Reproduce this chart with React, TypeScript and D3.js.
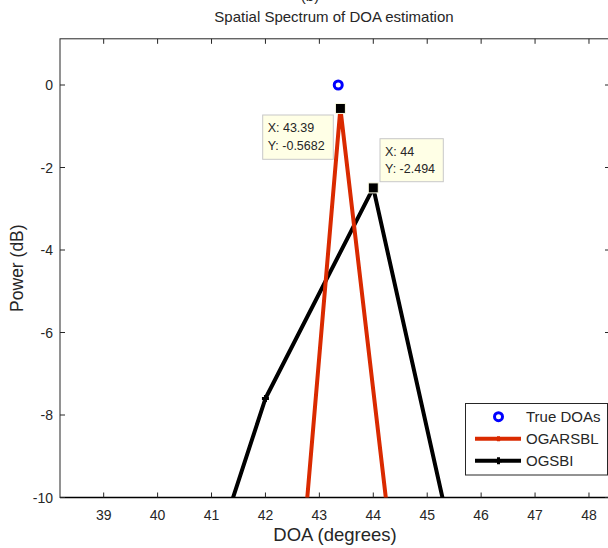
import { useEffect, useRef } from 'react';
import * as d3 from 'd3';

// values
const trueDoas = [43.35];
const truePower = [0];

const ogarsblDoa = [42.39, 43.39, 44.39];
const ogarsblPower = [-15.93, -0.5682, -11.77];

const ogsbiDoa = [41, 42, 44, 46];
const ogsbiPower = [-11.6, -7.6, -2.494, -14.2];

const xTicks = [39, 40, 41, 42, 43, 44, 45, 46, 47, 48];
const yTicks = [-10, -8, -6, -4, -2, 0];

// data tips shown on the figure
const tips = [
  { x: 43.39, y: -0.5682, label: ['X: 43.39', 'Y: -0.5682'] },
  { x: 44, y: -2.494, label: ['X: 44', 'Y: -2.494'] },
];

const RED = '#da2a00';
const FONT = '"Liberation Sans", Arial, Helvetica, sans-serif';

export default function App() {
  const svgRef = useRef<SVGSVGElement | null>(null);

  useEffect(() => {
    const width = 608;
    const height = 548;
    const plot = { left: 60, right: 610, top: 38.8, bottom: 497.5 };

    const svg = d3.select(svgRef.current);
    svg.selectAll('*').remove();
    svg.attr('viewBox', `0 0 ${width} ${height}`);

    svg.append('rect').attr('width', width).attr('height', height).attr('fill', '#fff');

    const x = d3.scaleLinear().domain([38.19, 48.39]).range([plot.left, plot.right]);
    const y = d3.scaleLinear().domain([-10, 1.12]).range([plot.bottom, plot.top]);

    svg.append('clipPath').attr('id', 'plotclip')
      .append('rect')
      .attr('x', plot.left).attr('y', plot.top)
      .attr('width', plot.right - plot.left).attr('height', plot.bottom - plot.top);

    // axes box with inward ticks
    const tickLen = 5;
    const frame = svg.append('g').attr('stroke', '#262626').attr('stroke-width', 1).attr('fill', 'none');
    frame.append('rect')
      .attr('x', plot.left).attr('y', plot.top)
      .attr('width', plot.right - plot.left).attr('height', plot.bottom - plot.top);
    frame.append('line')
      .attr('x1', plot.left).attr('x2', plot.right)
      .attr('y1', plot.bottom).attr('y2', plot.bottom)
      .attr('stroke', '#000').attr('stroke-width', 1.5);

    xTicks.forEach((t) => {
      frame.append('line').attr('x1', x(t)).attr('x2', x(t)).attr('y1', plot.bottom).attr('y2', plot.bottom - tickLen);
      frame.append('line').attr('x1', x(t)).attr('x2', x(t)).attr('y1', plot.top).attr('y2', plot.top + tickLen);
    });
    yTicks.forEach((t) => {
      frame.append('line').attr('x1', plot.left).attr('x2', plot.left + tickLen).attr('y1', y(t)).attr('y2', y(t));
      frame.append('line').attr('x1', plot.right).attr('x2', plot.right - tickLen).attr('y1', y(t)).attr('y2', y(t));
    });

    const labels = svg.append('g').attr('font-family', FONT).attr('fill', '#262626').attr('font-size', 14);
    xTicks.forEach((t) => {
      labels.append('text').attr('x', x(t)).attr('y', plot.bottom + 22)
        .attr('text-anchor', 'middle').text(t);
    });
    yTicks.forEach((t) => {
      labels.append('text').attr('x', plot.left - 7).attr('y', y(t) + 5)
        .attr('text-anchor', 'end').text(t);
    });

    svg.append('text').attr('x', 334).attr('y', 22)
      .attr('font-family', FONT).attr('font-size', 15).attr('text-anchor', 'middle')
      .attr('fill', '#262626').text('Spatial Spectrum of DOA estimation');
    svg.append('text').attr('x', 310).attr('y', 1)
      .attr('font-family', FONT).attr('font-size', 15).attr('text-anchor', 'middle')
      .attr('fill', '#262626').text('(b)');

    svg.append('text').attr('x', 335).attr('y', 541)
      .attr('font-family', FONT).attr('font-size', 18.5).attr('text-anchor', 'middle')
      .attr('fill', '#262626').text('DOA (degrees)');
    svg.append('text')
      .attr('transform', `translate(23,${(plot.top + plot.bottom) / 2}) rotate(-90)`)
      .attr('font-family', FONT).attr('font-size', 17.5).attr('text-anchor', 'middle')
      .attr('fill', '#262626').text('Power (dB)');

    const g = svg.append('g').attr('clip-path', 'url(#plotclip)');
    const line = d3.line<[number, number]>().x((d) => x(d[0])).y((d) => y(d[1]));

    const plus = (sel: any, cx: number, cy: number, color: string, r: number) => {
      sel.append('path')
        .attr('d', `M${cx - r},${cy}H${cx + r}M${cx},${cy - r}V${cy + r}`)
        .attr('stroke', color).attr('stroke-width', 3).attr('fill', 'none');
    };

    const ogarsbl = ogarsblDoa.map((d, i) => [d, ogarsblPower[i]] as [number, number]);
    const ogsbi = ogsbiDoa.map((d, i) => [d, ogsbiPower[i]] as [number, number]);

    g.append('path').datum(ogsbi).attr('d', line)
      .attr('fill', 'none').attr('stroke', '#000').attr('stroke-width', 4).attr('stroke-linejoin', 'round');
    ogsbi.forEach((d) => plus(g, x(d[0]), y(d[1]), '#000', 3.5));

    g.append('path').datum(ogarsbl).attr('d', line)
      .attr('fill', 'none').attr('stroke', RED).attr('stroke-width', 4).attr('stroke-linejoin', 'round');
    ogarsbl.forEach((d) => plus(g, x(d[0]), y(d[1]), RED, 3));

    trueDoas.forEach((d, i) => {
      g.append('circle').attr('cx', x(d)).attr('cy', y(truePower[i])).attr('r', 4)
        .attr('fill', 'none').attr('stroke', '#0000ff').attr('stroke-width', 3);
    });

    // data tips
    const tipLayout = [
      { bx: 262.7, by: 115, bw: 70.6, bh: 44.3 },
      { bx: 380, by: 138.7, bw: 63.3, bh: 43 },
    ];
    tips.forEach((t, i) => {
      const b = tipLayout[i];
      svg.append('rect').attr('x', b.bx).attr('y', b.by).attr('width', b.bw).attr('height', b.bh)
        .attr('fill', '#ffffe6').attr('stroke', '#c8c8c8').attr('stroke-width', 1);
      t.label.forEach((s, k) => {
        svg.append('text').attr('x', b.bx + 5).attr('y', b.by + 17 + k * 17.5)
          .attr('font-family', FONT).attr('font-size', 12.5).attr('fill', '#262626').text(s);
      });
      svg.append('rect').attr('x', x(t.x) - 5).attr('y', y(t.y) - 5).attr('width', 10).attr('height', 10)
        .attr('fill', '#000').attr('stroke', '#ffffe6').attr('stroke-width', 1);
    });

    // legend
    const lg = svg.append('g');
    lg.append('rect').attr('x', 465.5).attr('y', 403.5).attr('width', 142).attr('height', 71.5)
      .attr('fill', '#fff').attr('stroke', '#262626').attr('stroke-width', 1);
    const rows = [
      { name: 'True DOAs', kind: 'circle', color: '#0000ff' },
      { name: 'OGARSBL', kind: 'line', color: RED },
      { name: 'OGSBI', kind: 'line', color: '#000' },
    ];
    rows.forEach((r, i) => {
      const cy = 416.7 + i * 22;
      if (r.kind === 'circle') {
        lg.append('circle').attr('cx', 498.5).attr('cy', cy).attr('r', 4)
          .attr('fill', 'none').attr('stroke', r.color).attr('stroke-width', 3);
      } else {
        lg.append('line').attr('x1', 475).attr('x2', 521).attr('y1', cy).attr('y2', cy)
          .attr('stroke', r.color).attr('stroke-width', 4);
        plus(lg, 498.5, cy, r.color, r.color === RED ? 2.5 : 3.5);
      }
      lg.append('text').attr('x', 526).attr('y', cy + 5.5).attr('font-family', FONT)
        .attr('font-size', 15).attr('fill', '#262626').text(r.name);
    });
  }, []);

  return (
    <svg
      ref={svgRef}
      width={608}
      height={548}
      style={{ position: 'absolute', left: 0, top: 0, display: 'block' }}
    />
  );
}
